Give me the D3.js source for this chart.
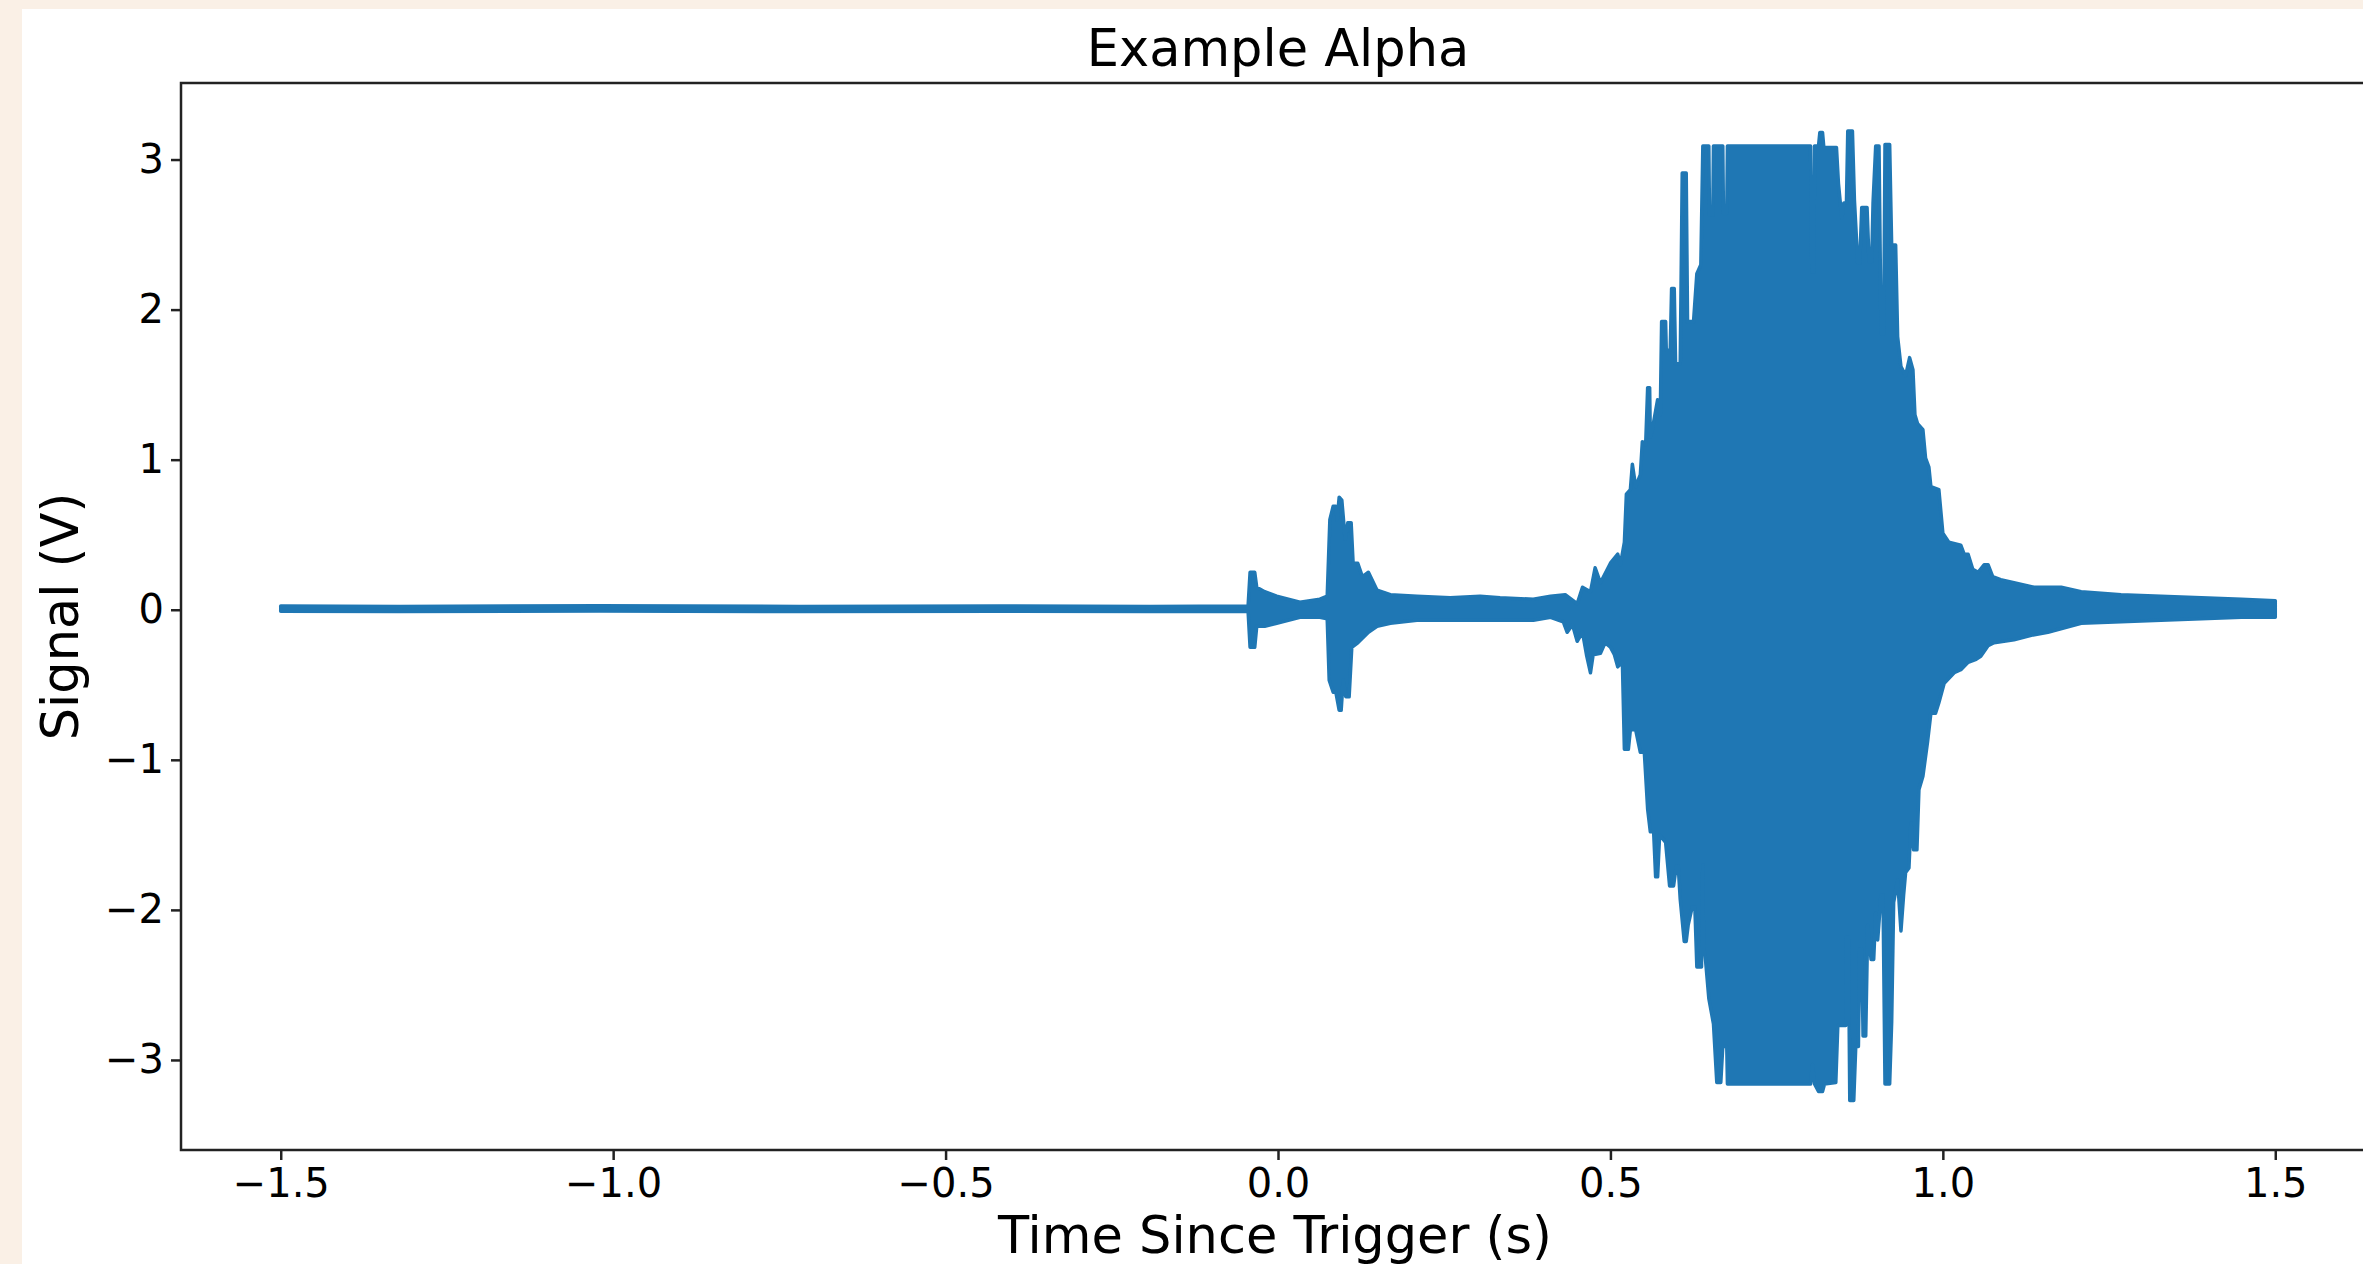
<!DOCTYPE html>
<meta charset="utf-8">

<!-- Load d3.js -->
<script src="https://d3js.org/d3.v7.min.js"></script>

<style>
  body { margin: 0; background: #faf0e6; overflow: hidden; }
  text { font-family: "DejaVu Sans", sans-serif; fill: #000; }
</style>

<!-- Create a div where the graph will take place -->
<div id="my_dataviz"></div>

<script>

// tick values of both axes
var xTicks = [-1.5, -1.0, -0.5, 0.0, 0.5, 1.0, 1.5];
var yTicks = [-3, -2, -1, 0, 1, 2, 3];

var upperEdge = [
  [-1.500, 0.025], [-1.322, 0.022], [-1.021, 0.026], [-0.720, 0.022], [-0.419, 0.025],
  [-0.193, 0.022], [-0.045, 0.025], [-0.042, 0.25], [-0.035, 0.25], [-0.032, 0.15],
  [-0.020, 0.12], [-0.002, 0.09], [0.033, 0.05], [0.063, 0.07], [0.074, 0.09],
  [0.078, 0.60], [0.083, 0.69], [0.087, 0.69], [0.089, 0.60], [0.092, 0.75],
  [0.096, 0.73], [0.101, 0.47], [0.105, 0.58], [0.110, 0.58], [0.113, 0.31],
  [0.120, 0.31], [0.127, 0.22], [0.136, 0.25], [0.149, 0.13], [0.169, 0.10],
  [0.209, 0.09], [0.259, 0.08], [0.304, 0.09], [0.334, 0.08], [0.384, 0.07],
  [0.410, 0.09], [0.432, 0.10], [0.450, 0.04], [0.458, 0.15], [0.470, 0.12],
  [0.477, 0.28], [0.485, 0.18], [0.500, 0.31], [0.511, 0.37], [0.515, 0.30],
  [0.521, 0.45], [0.524, 0.77], [0.530, 0.80], [0.533, 0.97], [0.538, 0.82],
  [0.545, 0.90], [0.548, 1.12], [0.553, 1.10], [0.556, 1.48], [0.559, 1.48],
  [0.560, 1.15], [0.563, 1.20], [0.571, 1.40], [0.575, 1.30], [0.577, 1.92],
  [0.583, 1.92], [0.584, 1.73], [0.590, 1.73], [0.592, 2.14], [0.596, 2.14],
  [0.598, 1.64], [0.605, 1.64], [0.608, 2.91], [0.614, 2.91], [0.616, 1.92],
  [0.625, 1.92], [0.630, 2.24], [0.636, 2.30], [0.639, 3.09], [0.648, 3.09],
  [0.649, 2.63], [0.654, 2.63], [0.655, 3.09], [0.669, 3.09], [0.670, 2.64],
  [0.675, 2.64], [0.676, 3.09], [0.801, 3.09], [0.803, 2.25], [0.806, 2.25],
  [0.807, 3.09], [0.813, 3.09], [0.815, 3.18], [0.819, 3.18], [0.821, 3.08],
  [0.840, 3.08], [0.843, 2.84], [0.848, 2.61], [0.851, 2.71], [0.855, 2.71],
  [0.857, 3.19], [0.864, 3.19], [0.867, 2.73], [0.872, 2.31], [0.875, 2.31],
  [0.878, 2.68], [0.886, 2.68], [0.889, 2.32], [0.893, 2.32], [0.895, 2.71],
  [0.899, 3.09], [0.904, 3.09], [0.907, 1.84], [0.911, 1.84], [0.913, 3.10],
  [0.920, 3.10], [0.923, 2.43], [0.929, 2.43], [0.932, 1.82], [0.937, 1.62],
  [0.944, 1.56], [0.950, 1.68], [0.955, 1.60], [0.958, 1.30], [0.962, 1.24],
  [0.970, 1.20], [0.974, 1.01], [0.979, 0.95], [0.982, 0.82], [0.994, 0.80],
  [1.000, 0.51], [1.009, 0.45], [1.027, 0.43], [1.032, 0.37], [1.038, 0.37],
  [1.045, 0.27], [1.053, 0.25], [1.062, 0.30], [1.068, 0.30], [1.075, 0.22],
  [1.087, 0.20], [1.107, 0.18], [1.137, 0.15], [1.178, 0.15], [1.208, 0.12],
  [1.268, 0.10], [1.328, 0.09], [1.389, 0.08], [1.449, 0.07], [1.500, 0.06]
];

var lowerEdge = [
  [-1.500, -0.010], [-1.322, -0.012], [-1.021, -0.009], [-0.720, -0.012], [-0.419, -0.010],
  [-0.193, -0.012], [-0.045, -0.010], [-0.042, -0.25], [-0.035, -0.25], [-0.032, -0.11],
  [-0.020, -0.11], [-0.002, -0.09], [0.033, -0.05], [0.063, -0.05], [0.074, -0.06],
  [0.077, -0.47], [0.083, -0.55], [0.087, -0.55], [0.092, -0.67], [0.095, -0.67],
  [0.098, -0.47], [0.102, -0.58], [0.107, -0.58], [0.111, -0.25], [0.120, -0.22],
  [0.136, -0.15], [0.149, -0.11], [0.169, -0.09], [0.209, -0.07], [0.309, -0.07],
  [0.384, -0.07], [0.410, -0.05], [0.429, -0.08], [0.435, -0.15], [0.443, -0.10],
  [0.450, -0.21], [0.458, -0.15], [0.464, -0.30], [0.470, -0.42], [0.474, -0.30],
  [0.485, -0.29], [0.492, -0.22], [0.500, -0.25], [0.506, -0.30], [0.511, -0.38],
  [0.518, -0.35], [0.521, -0.93], [0.527, -0.93], [0.530, -0.80], [0.538, -0.80],
  [0.545, -0.95], [0.551, -0.95], [0.556, -1.33], [0.560, -1.48], [0.565, -1.48],
  [0.568, -1.78], [0.571, -1.78], [0.574, -1.50], [0.583, -1.55], [0.589, -1.84],
  [0.595, -1.84], [0.599, -1.71], [0.602, -1.71], [0.605, -1.93], [0.611, -2.21],
  [0.614, -2.21], [0.617, -2.10], [0.623, -1.98], [0.627, -1.98], [0.630, -2.38],
  [0.637, -2.38], [0.639, -1.70], [0.640, -2.28], [0.642, -2.28], [0.648, -2.59],
  [0.655, -2.76], [0.660, -3.15], [0.666, -3.15], [0.669, -2.91], [0.675, -2.91],
  [0.676, -3.16], [0.801, -3.16], [0.804, -3.03], [0.807, -3.16], [0.813, -3.21],
  [0.819, -3.21], [0.822, -3.16], [0.839, -3.15], [0.842, -2.77], [0.854, -2.77],
  [0.855, -2.18], [0.858, -2.18], [0.860, -3.27], [0.866, -3.27], [0.869, -2.91],
  [0.873, -2.91], [0.875, -2.26], [0.878, -2.26], [0.880, -2.84], [0.884, -2.84],
  [0.887, -2.10], [0.892, -2.33], [0.896, -2.33], [0.899, -2.02], [0.902, -2.20],
  [0.907, -1.90], [0.910, -1.90], [0.913, -3.16], [0.920, -3.16], [0.923, -2.75],
  [0.926, -1.95], [0.932, -1.80], [0.937, -2.14], [0.941, -1.90], [0.944, -1.75],
  [0.949, -1.72], [0.952, -1.42], [0.956, -1.60], [0.961, -1.60], [0.964, -1.20],
  [0.970, -1.11], [0.977, -0.88], [0.982, -0.69], [0.989, -0.69], [0.994, -0.62],
  [1.002, -0.49], [1.017, -0.42], [1.027, -0.40], [1.038, -0.35], [1.050, -0.33],
  [1.057, -0.31], [1.068, -0.24], [1.077, -0.22], [1.107, -0.20], [1.133, -0.17],
  [1.158, -0.15], [1.208, -0.09], [1.268, -0.08], [1.328, -0.07], [1.389, -0.06],
  [1.449, -0.05], [1.500, -0.05]
];

/***************************************
Figure and axes frame
****************************************/

var W = 2363, H = 1264;
var box = {left: 181, top: 83, right: 2375, bottom: 1150};

var svg = d3.select("#my_dataviz")
  .append("svg")
    .attr("width", W)
    .attr("height", H)
    .style("display", "block");

// beige page, white figure
svg.append("rect")
  .attr("width", W).attr("height", H)
  .attr("fill", "#faf0e6");
svg.append("rect")
  .attr("x", 22).attr("y", 9)
  .attr("width", W - 22).attr("height", H - 9)
  .attr("fill", "#ffffff");

var x = d3.scaleLinear()
  .domain([-1.65, 1.65])
  .range([box.left, box.right]);

var y = d3.scaleLinear()
  .domain([-3.6, 3.51])
  .range([box.bottom, box.top]);

/***************************************
The signal
****************************************/

var outline = upperEdge.concat(lowerEdge.slice().reverse());

var line = d3.line()
  .x(function(d) { return x(d[0]); })
  .y(function(d) { return y(d[1]); });

svg.append("path")
  .datum(outline)
  .attr("d", function(d) { return line(d) + "Z"; })
  .attr("fill", "#1f77b4")
  .attr("stroke", "#1f77b4")
  .attr("stroke-width", 3.5)
  .attr("stroke-linejoin", "round");

/***************************************
Axes
****************************************/

var xAxis = svg.append("g")
  .attr("transform", "translate(0," + box.bottom + ")")
  .call(d3.axisBottom(x)
    .tickValues(xTicks)
    .tickFormat(d3.format(".1f"))
    .tickSize(10)
    .tickPadding(9));

var yAxis = svg.append("g")
  .attr("transform", "translate(" + box.left + ",0)")
  .call(d3.axisLeft(y)
    .tickValues(yTicks)
    .tickFormat(d3.format("d"))
    .tickSize(10)
    .tickPadding(7));

[xAxis, yAxis].forEach(function(g) {
  g.select(".domain").remove();
  g.selectAll(".tick line").attr("stroke", "#222").attr("stroke-width", 2.5);
  g.selectAll(".tick text")
    .attr("fill", "#000")
    .style("font-family", "DejaVu Sans")
    .style("font-size", "40px");
});

// frame around the plot area
svg.append("rect")
  .attr("x", box.left)
  .attr("y", box.top)
  .attr("width", box.right - box.left)
  .attr("height", box.bottom - box.top)
  .attr("fill", "none")
  .attr("stroke", "#222")
  .attr("stroke-width", 2.5);

/***************************************
Title and labels
****************************************/

svg.append("text")
  .attr("x", (box.left + box.right) / 2)
  .attr("y", 66)
  .attr("text-anchor", "middle")
  .style("font-size", "51px")
  .text("Example Alpha");

svg.append("text")
  .attr("x", (box.left + box.right) / 2 - 3)
  .attr("y", 1253)
  .attr("text-anchor", "middle")
  .style("font-size", "51px")
  .text("Time Since Trigger (s)");

svg.append("text")
  .attr("transform", "translate(78," + (box.top + box.bottom) / 2 + ") rotate(-90)")
  .attr("text-anchor", "middle")
  .style("font-size", "51px")
  .text("Signal (V)");

</script>
